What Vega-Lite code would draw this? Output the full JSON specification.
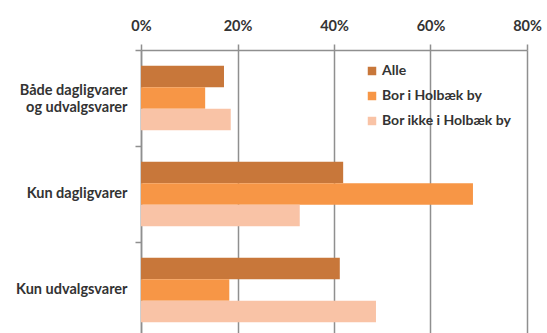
{
  "$schema": "https://vega.github.io/schema/vega-lite/v6.json",
  "width": 386,
  "height": 283,
  "autosize": "none",
  "padding": {"left": 141, "top": 50, "right": 20, "bottom": 0},
  "background": "white",
  "config": {
    "view": {"stroke": null},
    "font": "Lato"
  },
  "data": {
    "values": [
      {"kategori": "Både dagligvarer og udvalgsvarer", "gruppe": "Alle", "andel": 0.172},
      {"kategori": "Både dagligvarer og udvalgsvarer", "gruppe": "Bor i Holbæk by", "andel": 0.133},
      {"kategori": "Både dagligvarer og udvalgsvarer", "gruppe": "Bor ikke i Holbæk by", "andel": 0.186},
      {"kategori": "Kun dagligvarer", "gruppe": "Alle", "andel": 0.419},
      {"kategori": "Kun dagligvarer", "gruppe": "Bor i Holbæk by", "andel": 0.688},
      {"kategori": "Kun dagligvarer", "gruppe": "Bor ikke i Holbæk by", "andel": 0.329},
      {"kategori": "Kun udvalgsvarer", "gruppe": "Alle", "andel": 0.412},
      {"kategori": "Kun udvalgsvarer", "gruppe": "Bor i Holbæk by", "andel": 0.183},
      {"kategori": "Kun udvalgsvarer", "gruppe": "Bor ikke i Holbæk by", "andel": 0.487}
    ]
  },
  "mark": {"type": "bar"},
  "encoding": {
    "y": {
      "field": "kategori",
      "type": "nominal",
      "sort": ["Både dagligvarer og udvalgsvarer", "Kun dagligvarer", "Kun udvalgsvarer"],
      "scale": {"paddingInner": 0.328, "paddingOuter": 0.138, "align": 0.594},
      "axis": {
        "title": null,
        "grid": false,
        "bandPosition": 0,
        "tickOffset": -15.75,
        "domainColor": "#8f8f8f",
        "domainWidth": 1.5,
        "tickColor": "#8f8f8f",
        "tickWidth": 1.5,
        "tickSize": 6,
        "labelPadding": 8,
        "labelFont": "Lato",
        "labelFontSize": 14.5,
        "labelFontWeight": "bold",
        "labelColor": "#333333",
        "labelLineHeight": 17,
        "labelOffset": {"condition": {"test": "datum.value == 'Både dagligvarer og udvalgsvarer'", "value": 8.75}, "value": 15.75},
        "labelExpr": "datum.value == 'Både dagligvarer og udvalgsvarer' ? ['Både dagligvarer', 'og udvalgsvarer'] : datum.value"
      }
    },
    "yOffset": {
      "field": "gruppe",
      "type": "nominal",
      "sort": ["Alle", "Bor i Holbæk by", "Bor ikke i Holbæk by"],
      "scale": {"paddingInner": 0, "paddingOuter": 0}
    },
    "x": {
      "field": "andel",
      "type": "quantitative",
      "scale": {"domain": [0, 0.8], "nice": false},
      "axis": {
        "orient": "top",
        "title": null,
        "values": [0, 0.2, 0.4, 0.6, 0.8],
        "format": ".0%",
        "grid": true,
        "gridColor": "#8f8f8f",
        "gridWidth": 1.5,
        "domainColor": "#8f8f8f",
        "domainWidth": 1.5,
        "tickColor": "#8f8f8f",
        "tickWidth": 1.5,
        "tickSize": 6,
        "labelPadding": 11,
        "labelFont": "Lato",
        "labelFontSize": 14.5,
        "labelFontWeight": "bold",
        "labelColor": "#333333",
        "labelFlush": false
      }
    },
    "color": {
      "field": "gruppe",
      "type": "nominal",
      "sort": ["Alle", "Bor i Holbæk by", "Bor ikke i Holbæk by"],
      "scale": {
        "domain": ["Alle", "Bor i Holbæk by", "Bor ikke i Holbæk by"],
        "range": ["#C8773A", "#F79646", "#F9C3A6"]
      },
      "legend": {
        "title": null,
        "orient": "none",
        "legendX": 224,
        "legendY": 14,
        "symbolType": "square",
        "symbolSize": 72,
        "symbolStrokeWidth": 0,
        "labelFont": "Lato",
        "labelFontSize": 14,
        "labelFontWeight": "bold",
        "labelColor": "#333333",
        "labelOffset": 3,
        "rowPadding": 11
      }
    }
  }
}
